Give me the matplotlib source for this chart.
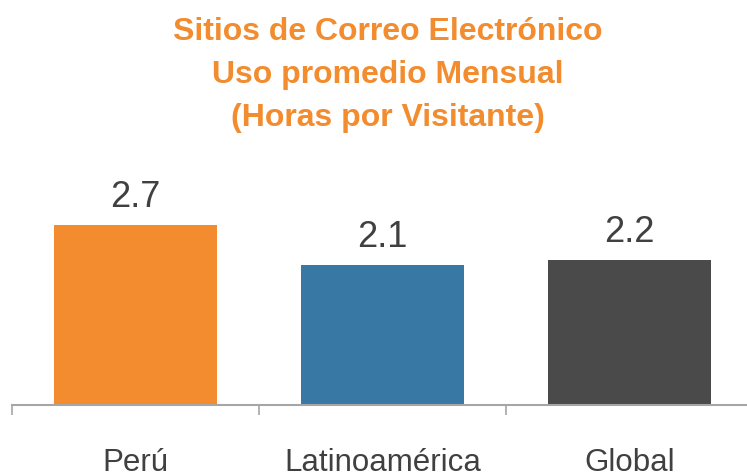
import matplotlib.pyplot as plt
import numpy as np

categories = ["Perú", "Latinoamérica", "Global"]
values = [2.7, 2.1, 2.17]
colors = ["#F28C2E", "#3878A4", "#4A4A4A"]
title_lines = ["Sitios de Correo Electrónico", "Uso promedio Mensual", "(Horas por Visitante)"]

plt.rcParams['font.family'] = ['Liberation Sans', 'DejaVu Sans']

fig = plt.figure(figsize=(7.47, 4.77), dpi=100)
W, H = 747, 477
# axes in pixel coords: x 12..753, y bottom 406, top 206
ax = fig.add_axes([12 / W, (H - 406) / H, 741 / W, 200 / H])

x = np.arange(len(categories))
ax.bar(x, values, width=0.656, color=colors)
for xi, v in zip(x, values):
    ax.text(xi, v + 0.17, f"{v:.1f}", ha="center", va="bottom", fontsize=26, color="#404040")

ax.set_xlim(-0.5, 2.5)
ax.set_ylim(0, 3)
ax.set_yticks([])
ax.set_xticks(x)
ax.set_xticklabels(categories, fontsize=22.5, color="#404040")
ax.tick_params(axis="x", which="major", length=0, pad=30)
ax.set_xticks([-0.5, 0.5, 1.5, 2.5], minor=True)
ax.tick_params(axis="x", which="minor", length=7.5, width=1.2, color="#A6A6A6")
for s in ["top", "right", "left"]:
    ax.spines[s].set_visible(False)
ax.spines["bottom"].set_color("#A6A6A6")
ax.spines["bottom"].set_linewidth(1.5)

for i, line in enumerate(title_lines):
    fig.text(388 / W, 1 - (32 + 43 * i) / H, line, ha="center", va="center",
             fontsize=23, fontweight="bold", color="#F28C2E")

fig.savefig("out.png", dpi=100)
